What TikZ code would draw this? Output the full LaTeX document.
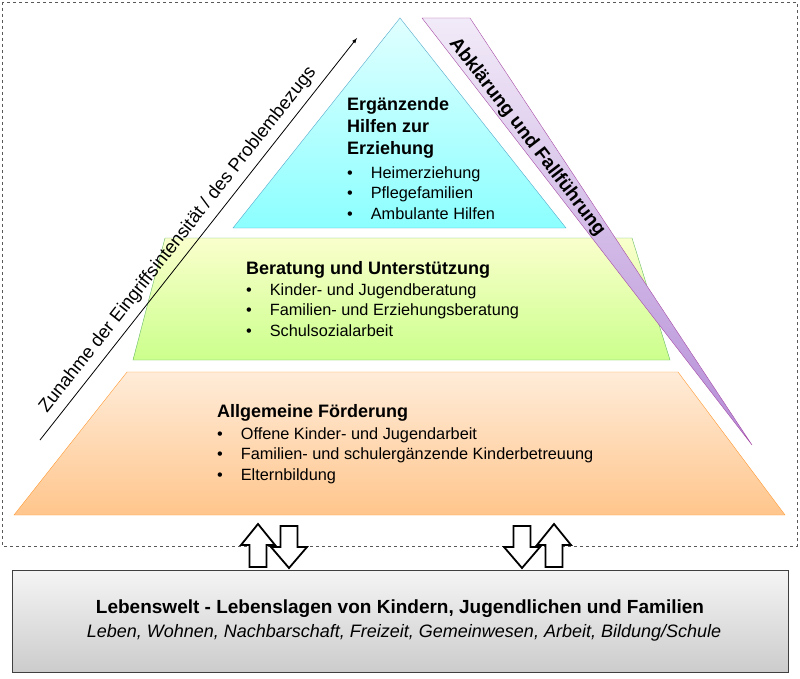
\documentclass[tikz,border=0pt]{standalone}
\usepackage{fontspec}
\setmainfont{Liberation Sans}
\begin{document}
\begin{tikzpicture}[x=1pt,y=-1pt,
  head/.style = {font=\bfseries\fontsize{18}{22}\selectfont, align=left, anchor=north west, inner sep=0pt},
  items/.style = {font=\fontsize{16.3}{20.5}\selectfont, align=left, anchor=north west, inner sep=0pt},
  blockarrow/.style = {draw=black, line width=1.8pt, fill=white},
  uparrow/.pic = {\draw[blockarrow] (-8.5,22)--(-8.5,0)--(-17,0)--(0,-21)--(17,0)--(8.5,0)--(8.5,22)--cycle;},
  downarrow/.pic = {\draw[blockarrow] (-8.5,-21)--(-8.5,0)--(-18,0)--(0,21)--(18,0)--(8.5,0)--(8.5,-21)--cycle;}]
\useasboundingbox (0,0) rectangle (800,679);

\draw[dashed,gray!70!black] (2,2) rectangle (797,546);

% pyramid levels
\draw[draw=cyan!60!gray,top color=cyan!12,bottom color=cyan!45] (400,18) -- (566,228) -- (233,228) -- cycle;
\draw[draw=green!55!black!60,top color=green!10!yellow!20,bottom color=green!45!yellow!45] (165,238) -- (632,238) -- (670,360) -- (133,360) -- cycle;
\draw[draw=orange!80,top color=orange!15,bottom color=orange!45] (127,372) -- (678,372) -- (785,515) -- (14,515) -- cycle;

% wedge
\draw[draw=violet!70,top color=blue!30!violet!8,bottom color=blue!30!violet!45] (422,18) -- (470,18) -- (752,445) -- cycle;
\node[font=\bfseries\fontsize{19}{22}\selectfont,rotate=-52.5] (wedge) at (527,137) {Abklärung und Fallführung};

% intensity arrow
\draw[->,>=latex,thick] (40,440) -- (357,38);
\node[font=\fontsize{18.5}{22}\selectfont,rotate=51.7] (intens) at (178,240) {Zunahme der Eingriffsintensität / des Problembezugs};

% texts
\node[head] (t1) at (347,97) {Ergänzende\\Hilfen zur\\Erziehung};
\node[items] (l1) at (347,166) {•\hspace{1.1em}Heimerziehung\\•\hspace{1.1em}Pflegefamilien\\•\hspace{1.1em}Ambulante Hilfen};
\node[head] (t2) at (246,261) {Beratung und Unterstützung};
\node[items] (l2) at (246,283) {•\hspace{1.1em}Kinder- und Jugendberatung\\•\hspace{1.1em}Familien- und Erziehungsberatung\\•\hspace{1.1em}Schulsozialarbeit};
\node[head] (t3) at (217,404) {Allgemeine Förderung};
\node[items] (l3) at (217,427) {•\hspace{1.1em}Offene Kinder- und Jugendarbeit\\•\hspace{1.1em}Familien- und schulergänzende Kinderbetreuung\\•\hspace{1.1em}Elternbildung};

% arrows
\pic at (258,545) {uparrow};
\pic at (289,547) {downarrow};
\pic at (522,547) {downarrow};
\pic at (554,545) {uparrow};

% base box
\draw[draw=black!75,line width=1pt,top color=gray!8,bottom color=gray!40] (12,570) rectangle (788,672);
\node[font=\bfseries\fontsize{19}{22}\selectfont] (life) at (400,609) {Lebenswelt - Lebenslagen von Kindern, Jugendlichen und Familien};
\node[font=\itshape\fontsize{18}{21}\selectfont] (lifeitems) at (404,633) {Leben, Wohnen, Nachbarschaft, Freizeit, Gemeinwesen, Arbeit, Bildung/Schule};
\end{tikzpicture}
\end{document}
